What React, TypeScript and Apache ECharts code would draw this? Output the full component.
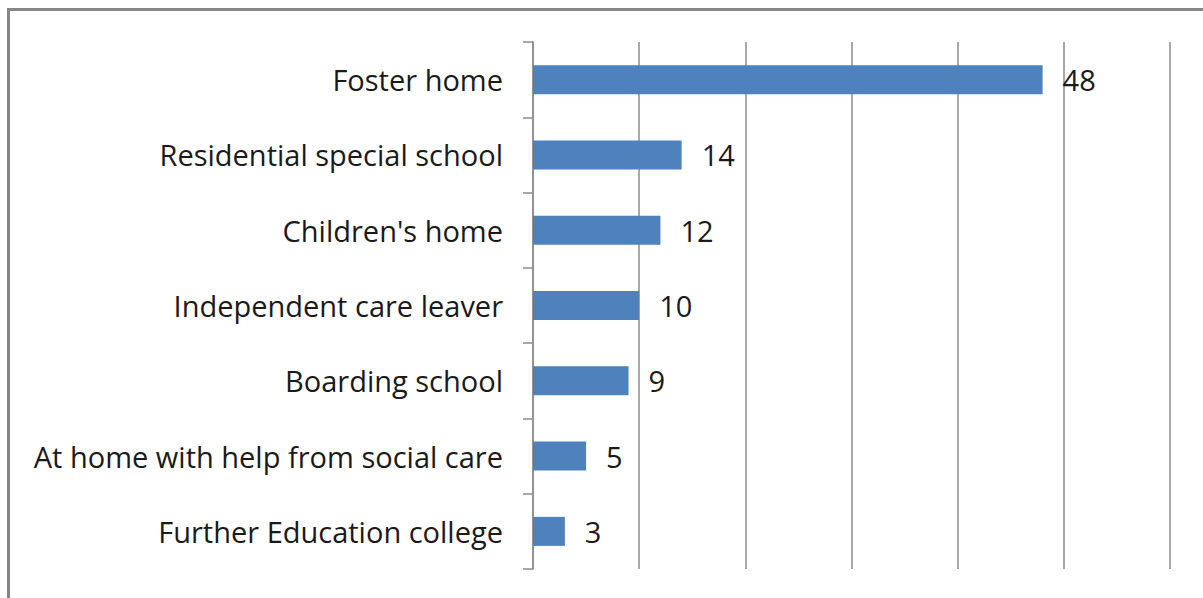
import React, { useEffect, useRef } from "react";
import * as echarts from "echarts";

const categories = [
  "Foster home",
  "Residential special school",
  "Children's home",
  "Independent care leaver",
  "Boarding school",
  "At home with help from social care",
  "Further Education college",
];
const values = [48, 14, 12, 10, 9, 5, 3];

const FONT = "Open Sans";
const FONT_SIZE = 29;

export default function App() {
  const ref = useRef<HTMLDivElement>(null);
  useEffect(() => {
    if (!ref.current) return;
    const chart = echarts.init(ref.current, null, { renderer: "svg" });
    chart.setOption({
      animation: false,
      backgroundColor: "#ffffff",
      grid: { left: 533, top: 42, right: 33, bottom: 29, containLabel: false },
      graphic: [
        {
          type: "polyline",
          shape: { points: [[8.5, 598], [8.5, 9.5], [1203, 9.5]] },
          style: { stroke: "#868686", lineWidth: 3, fill: "none" },
          z: 10,
        },
      ],
      xAxis: {
        type: "value",
        min: 0,
        max: 60,
        interval: 10,
        axisLine: { show: false },
        axisTick: { show: false },
        axisLabel: { show: false },
        splitLine: { show: true, lineStyle: { color: "#8c8c8c", width: 1.5 } },
      },
      yAxis: {
        type: "category",
        inverse: true,
        data: categories,
        axisLine: { show: true, lineStyle: { color: "#8c8c8c", width: 1.5 } },
        axisTick: { show: true, length: 10, lineStyle: { color: "#8c8c8c", width: 1.5 } },
        axisLabel: {
          margin: 30,
          fontFamily: FONT,
          fontSize: FONT_SIZE,
          color: "#1a1a1a",
        },
      },
      series: [
        {
          type: "bar",
          data: values,
          barWidth: 29,
          itemStyle: { color: "#4F81BD" },
          label: {
            show: true,
            position: "right",
            distance: 20,
            fontFamily: FONT,
            fontSize: FONT_SIZE,
            color: "#1a1a1a",
          },
        },
      ],
    });
    return () => chart.dispose();
  }, []);
  return (
    <div
      ref={ref}
      style={{ position: "absolute", left: 0, top: 0, width: 1203, height: 598 }}
    />
  );
}
